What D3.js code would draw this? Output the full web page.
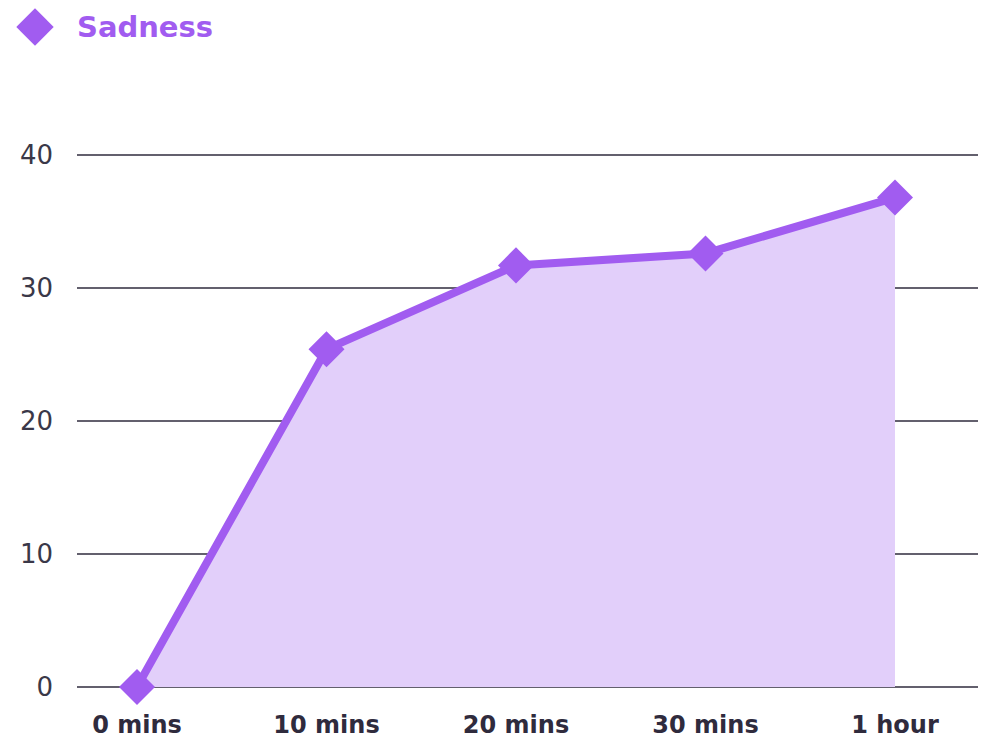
<!DOCTYPE html>
<html>
<head>
<meta charset="utf-8">
<script src="https://cdn.jsdelivr.net/npm/d3@7"></script>
<style>
body { margin: 0; background: #fff; }
text { font-family: "DejaVu Sans", sans-serif; }
</style>
</head>
<body>
<svg width="988" height="738"></svg>
<script>
var categories = ["0 mins", "10 mins", "20 mins", "30 mins", "1 hour"];
var sadness = [0, 25.4, 31.7, 32.6, 36.8];
var yTicks = [0, 10, 20, 30, 40];

var purple = "#a15cf0";
var svg = d3.select("svg");

var xScale = d3.scalePoint().domain(categories).range([137, 895]);
var yScale = d3.scaleLinear().domain([0, 40]).range([687, 155]);

// gridlines
svg.selectAll(".grid")
  .data(yTicks)
  .enter()
  .append("line")
  .attr("x1", 77).attr("x2", 978)
  .attr("y1", d => yScale(d)).attr("y2", d => yScale(d))
  .attr("stroke", "#2f2b3d")
  .attr("stroke-width", 1.5);

svg.selectAll(".ylab")
  .data(yTicks)
  .enter()
  .append("text")
  .attr("x", 53)
  .attr("y", d => yScale(d) + 9)
  .attr("text-anchor", "end")
  .attr("font-size", 26)
  .attr("fill", "#3a3848")
  .text(d => d);

var pts = categories.map((c, i) => ({c: c, v: sadness[i]}));

var area = d3.area()
  .x(d => xScale(d.c))
  .y0(yScale(0))
  .y1(d => yScale(d.v));

svg.append("path")
  .datum(pts)
  .attr("d", area)
  .attr("fill", "#e2cffa");

var line = d3.line()
  .x(d => xScale(d.c))
  .y(d => yScale(d.v));

svg.append("path")
  .datum(pts)
  .attr("d", line)
  .attr("fill", "none")
  .attr("stroke", purple)
  .attr("stroke-width", 8)
  .attr("stroke-linejoin", "round");

var diamond = d3.symbol().type(d3.symbolSquare).size(650);

svg.selectAll(".marker")
  .data(pts)
  .enter()
  .append("path")
  .attr("d", diamond)
  .attr("transform", d => "translate(" + xScale(d.c) + "," + yScale(d.v) + ") rotate(45)")
  .attr("fill", purple);

svg.selectAll(".xlab")
  .data(categories)
  .enter()
  .append("text")
  .attr("x", d => xScale(d))
  .attr("y", 733)
  .attr("text-anchor", "middle")
  .attr("font-size", 24)
  .attr("font-weight", "bold")
  .attr("fill", "#2f2b3d")
  .text(d => d);

// legend
svg.append("path")
  .attr("d", d3.symbol().type(d3.symbolSquare).size(700))
  .attr("transform", "translate(35,27) rotate(45)")
  .attr("fill", purple);

svg.append("text")
  .attr("x", 77)
  .attr("y", 37)
  .attr("font-size", 29)
  .attr("font-weight", "bold")
  .attr("fill", purple)
  .text("Sadness");
</script>
</body>
</html>
